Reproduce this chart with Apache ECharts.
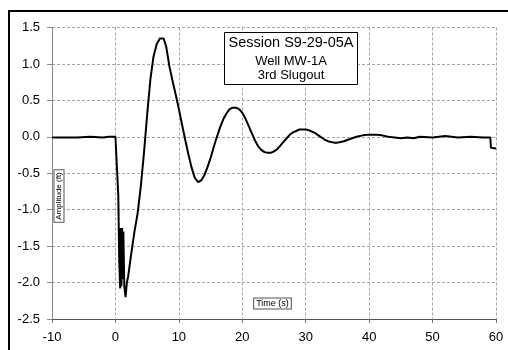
<!DOCTYPE html>
<html>
<head>
<meta charset="utf-8">
<script src="https://cdn.jsdelivr.net/npm/echarts@6/dist/echarts.min.js"></script>
<style>
  html, body { margin: 0; padding: 0; background: #fff; }
  #chart { width: 508px; height: 350px; }
</style>
</head>
<body>
<div id="chart"></div>
<script>
// Slugout response: time (s) and water-level amplitude (ft)
const timeSec = [
  -10, -8, -6, -4, -2, -1, 0, 0.3,
  0.45, 0.6, 0.75, 0.85, 0.95, 1.05, 1.15, 1.25, 1.4, 1.6, 1.8,
  2.0, 2.5, 3.0, 3.5, 4.0, 4.5, 5.0, 5.5, 6.0, 6.5, 7.0, 7.3, 7.6,
  8.0, 8.5, 9.0, 9.5, 10.0, 10.5, 11.0, 11.5, 12.0, 12.5, 13.0, 13.5,
  14.0, 14.5, 15.0, 15.5, 16.0, 16.5, 17.0, 17.5, 18.0, 18.5, 19.0,
  19.5, 20.0, 20.5, 21.0, 21.5, 22.0, 22.5, 23.0, 23.5, 24.0, 24.5,
  25.0, 25.5, 26.0, 26.5, 27.0, 27.5, 28.0, 28.5, 29.0, 29.5, 30.0,
  30.5, 31.0, 31.5, 32.0, 32.5, 33.0, 33.5, 34.0, 34.5, 35.0, 35.5,
  36.0, 37.0, 38.0, 39.0, 40.0, 41.0, 42.0, 43.0, 44.0, 45.0, 46.0,
  47.0, 48.0, 50.0, 52.0, 54.0, 56.0, 58.0, 59.1, 59.2, 60.0
];
const amplitudeFt = [
  -0.01, -0.01, -0.01, 0.0, -0.01, 0.0, 0.0, 0.0,
  -0.8, -1.7, -2.08, -1.25, -2.05, -1.25, -1.95, -1.3, -2.05, -2.2, -2.0,
  -1.92, -1.6, -1.3, -1.05, -0.68, -0.22, 0.3, 0.78, 1.1, 1.27, 1.35, 1.37, 1.35,
  1.24, 0.97, 0.77, 0.58, 0.38, 0.17, -0.04, -0.24, -0.42, -0.56, -0.62, -0.6,
  -0.53, -0.42, -0.29, -0.14, 0.0, 0.13, 0.24, 0.32, 0.38, 0.4, 0.4,
  0.38, 0.33, 0.25, 0.15, 0.05, -0.05, -0.13, -0.18, -0.21, -0.22, -0.22,
  -0.2, -0.17, -0.12, -0.07, -0.02, 0.03, 0.06, 0.08, 0.1, 0.1, 0.1,
  0.09, 0.07, 0.05, 0.02, -0.01, -0.04, -0.06, -0.07, -0.08, -0.08, -0.07,
  -0.06, -0.03, 0.0, 0.02, 0.03, 0.03, 0.02, 0.0, -0.01, -0.02, -0.01,
  -0.02, 0.0, -0.01, 0.01, -0.01, 0.0, -0.01, -0.01, -0.15, -0.16
];

const FONT = '"Liberation Sans", Arial, sans-serif';
const chart = echarts.init(document.getElementById('chart'), null, { renderer: 'canvas' });

const gridLine = { show: true, lineStyle: { color: '#a6a6a6', type: [3, 2], width: 1 } };
const boxedName = {
  fontFamily: FONT, color: '#000',
  borderColor: '#555', borderWidth: 1, padding: [1, 2, 0, 2], backgroundColor: '#fff'
};

chart.setOption({
  backgroundColor: '#ffffff',
  animation: false,
  title: {
    text: 'Session S9-29-05A',
    subtext: 'Well MW-1A\n3rd Slugout',
    left: 287,
    top: 32,
    textAlign: 'center',
    padding: [2, 4, 3, 4],
    itemGap: 3,
    borderColor: '#000',
    borderWidth: 1,
    backgroundColor: '#fff',
    textStyle: { fontFamily: FONT, fontSize: 14.5, fontWeight: 'normal', color: '#000', lineHeight: 17 },
    subtextStyle: { fontFamily: FONT, fontSize: 13, color: '#000', lineHeight: 14 }
  },
  grid: { left: 52, right: 12, top: 27.5, bottom: 31, containLabel: false, outerBoundsMode: 'none' },
  xAxis: {
    type: 'value',
    min: -10, max: 60, interval: 10,
    axisLine: { show: true, onZero: false, lineStyle: { color: '#555', width: 1 } },
    axisTick: { show: true, length: 4, lineStyle: { color: '#777' } },
    axisLabel: { fontFamily: FONT, fontSize: 13, color: '#000', margin: 12 },
    splitLine: gridLine
  },
  yAxis: {
    type: 'value',
    min: -2.5, max: 1.5, interval: 0.5,
    axisLine: { show: true, onZero: false, lineStyle: { color: '#888', width: 1 } },
    axisTick: { show: true, length: 5, lineStyle: { color: '#888' } },
    axisLabel: {
      fontFamily: FONT, fontSize: 13, color: '#000', margin: 12,
      formatter: v => v.toFixed(1)
    },
    splitLine: gridLine
  },
  graphic: [
    {
      // axis titles sit in small boxes just inside the plot area
      type: 'text', silent: true, z: 50,
      x: 59, y: 196, rotation: Math.PI / 2,
      style: Object.assign({ text: 'Amplitude (ft)', fontSize: 8, align: 'center', verticalAlign: 'middle' }, boxedName)
    },
    {
      type: 'text', silent: true, z: 50,
      x: 272.5, y: 303.5,
      style: Object.assign({ text: 'Time (s)', fontSize: 9, align: 'center', verticalAlign: 'middle' }, boxedName)
    },
    {
      type: 'rect', silent: true, z: 100,
      shape: { x: 9, y: 11, width: 560, height: 400 },
      style: { fill: null, stroke: '#000', lineWidth: 2 }
    }
  ],
  series: [{
    type: 'line',
    data: timeSec.map((t, i) => [t, amplitudeFt[i]]),
    showSymbol: false,
    smooth: false,
    lineStyle: { color: '#000', width: 2 },
    z: 3
  }]
});
</script>
</body>
</html>
